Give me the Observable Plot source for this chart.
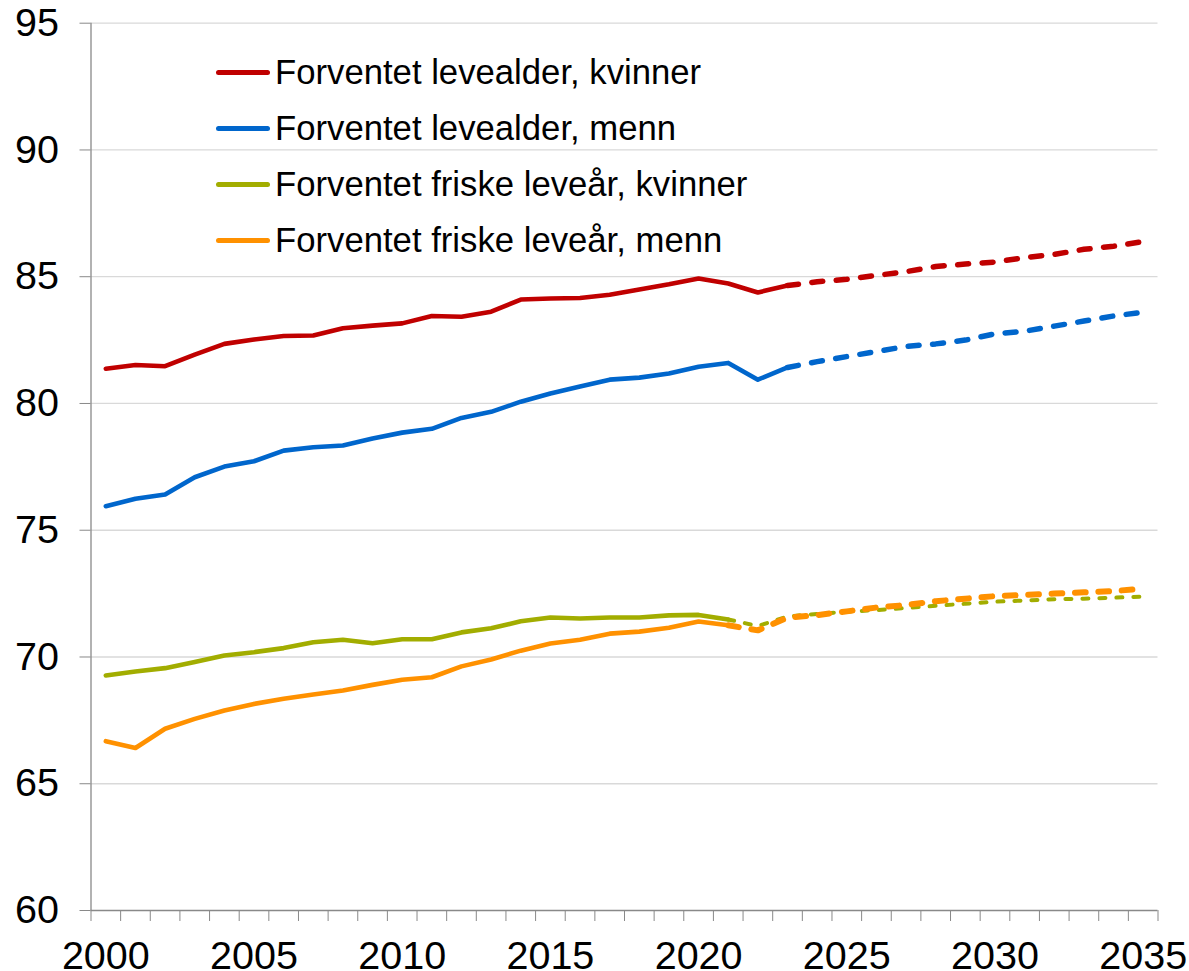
<!DOCTYPE html>
<html><head><meta charset="utf-8">
<script src="https://cdn.jsdelivr.net/npm/d3@7"></script>
<script src="https://cdn.jsdelivr.net/npm/@observablehq/plot@0.6"></script>
<style>
body{margin:0;background:#fff;font-family:"Liberation Sans",Arial,sans-serif;}
#wrap{position:relative;width:1189px;height:971px;}
#legend{position:absolute;left:216px;top:44px;}
.row{display:flex;align-items:center;height:56px;font-size:34.7px;color:#000;white-space:nowrap;}
.sw{width:54px;height:5px;border-radius:2.5px;margin-right:5px;}
</style></head><body><div id="wrap"><div id="legend"></div></div>
<script>
const years = [2000,2001,2002,2003,2004,2005,2006,2007,2008,2009,2010,2011,2012,2013,2014,2015,2016,2017,
  2018,2019,2020,2021,2022,2023,2024,2025,2026,2027,2028,2029,2030,2031,2032,2033,2034,2035];
const seriesNames = ["Forventet levealder, kvinner","Forventet levealder, menn","Forventet friske leveår, kvinner","Forventet friske leveår, menn"];
const levealderKvinner = [81.37,81.52,81.47,81.93,82.35,82.52,82.66,82.68,82.97,83.07,83.16,83.45,83.42,83.62,84.1,84.14,84.16,84.29,
  84.5,84.7,84.93,84.73,84.38,84.65,84.8,84.9,85.05,85.2,85.4,85.5,85.58,85.75,85.88,86.08,86.2,86.39];
const levealderMenn = [75.95,76.24,76.41,77.09,77.51,77.72,78.14,78.27,78.34,78.62,78.85,79.0,79.43,79.67,80.07,80.39,80.67,80.94,
  81.02,81.18,81.45,81.6,80.94,81.42,81.65,81.85,82.05,82.25,82.35,82.5,82.75,82.85,83.05,83.25,83.45,83.6];
const friskeKvinner = [69.27,69.43,69.56,69.8,70.06,70.19,70.35,70.58,70.68,70.54,70.7,70.7,70.97,71.13,71.41,71.56,71.52,71.56,
  71.56,71.64,71.66,71.48,71.22,71.6,71.7,71.78,71.85,71.93,72.02,72.1,72.18,72.23,72.28,72.3,72.34,72.38];
const friskeMenn = [66.68,66.41,67.17,67.56,67.89,68.15,68.35,68.52,68.68,68.9,69.1,69.2,69.63,69.9,70.25,70.53,70.68,70.92,
  71.0,71.15,71.4,71.25,71.05,71.55,71.65,71.8,71.95,72.05,72.2,72.3,72.4,72.45,72.5,72.55,72.6,72.7];
const lastObserved = [2023, 2023, 2021, 2021];
const yTicks = [60,65,70,75,80,85,90,95];
const xLabels = [2000,2005,2010,2015,2020,2025,2030,2035];

const allValues = [levealderKvinner, levealderMenn, friskeKvinner, friskeMenn];
const colors = ["#c00000","#0066cc","#a2ad00","#ff9100"];
const solidW = [4.6,4.6,4.6,4.6];
const dashW = [5.5,5.5,4,6];
const dashes = ["11,13.5","11,13.5","6,11","10.7,12.7"];

const rows = [];
allValues.forEach((vals, s) => vals.forEach((v, i) => rows.push({series: s, year: years[i], value: v})));
const xBounds = [...years.map(y => y - 0.5), years[years.length-1] + 0.5];

const marks = [
  Plot.gridY(yTicks.filter(t => t > 60), {stroke: "#d9d9d9", strokeOpacity: 1, strokeWidth: 1.3}),
  Plot.axisY({ticks: yTicks, label: null, tickSize: 11, tickPadding: 21, fontSize: 39.5, stroke: "#898989", fill: "#000", tickFormat: d => String(d)}),
  Plot.axisX({ticks: xBounds, label: null, tickSize: 11, stroke: "#898989", fill: "none", tickFormat: () => ""}),
  Plot.axisX({ticks: xLabels, label: null, tickSize: 0, tickPadding: 30, fontSize: 39.5, fill: "#000", tickFormat: d => String(d)}),
  Plot.ruleX([xBounds[0]], {stroke: "#898989", strokeWidth: 1.3}),
  Plot.ruleY([60], {stroke: "#898989", strokeWidth: 1.3})
];
[0,1,2,3].forEach(s => {
  marks.push(Plot.line(rows.filter(d => d.series === s && d.year <= lastObserved[s]),
    {x: "year", y: "value", stroke: colors[s], strokeWidth: solidW[s], strokeLinejoin: "round", strokeLinecap: "round"}));
  marks.push(Plot.line(rows.filter(d => d.series === s && d.year >= lastObserved[s]),
    {x: "year", y: "value", stroke: colors[s], strokeWidth: dashW[s], strokeDasharray: dashes[s], strokeLinejoin: "round", strokeLinecap: "round"}));
});

const chart = Plot.plot({
  width: 1189, height: 971,
  marginLeft: 90.5, marginRight: 31.5, marginTop: 22.7, marginBottom: 61,
  style: {fontFamily: "'Liberation Sans', Arial, sans-serif", background: "#fff"},
  x: {type: "linear", domain: [xBounds[0], xBounds[xBounds.length-1]], label: null},
  y: {domain: [60, 95], label: null},
  marks
});
document.getElementById("wrap").prepend(chart);

const legend = document.getElementById("legend");
seriesNames.forEach((n, s) => {
  const r = document.createElement("div"); r.className = "row";
  const sw = document.createElement("div"); sw.className = "sw"; sw.style.background = colors[s];
  const t = document.createElement("span"); t.textContent = n;
  r.appendChild(sw); r.appendChild(t); legend.appendChild(r);
});
</script></body></html>
